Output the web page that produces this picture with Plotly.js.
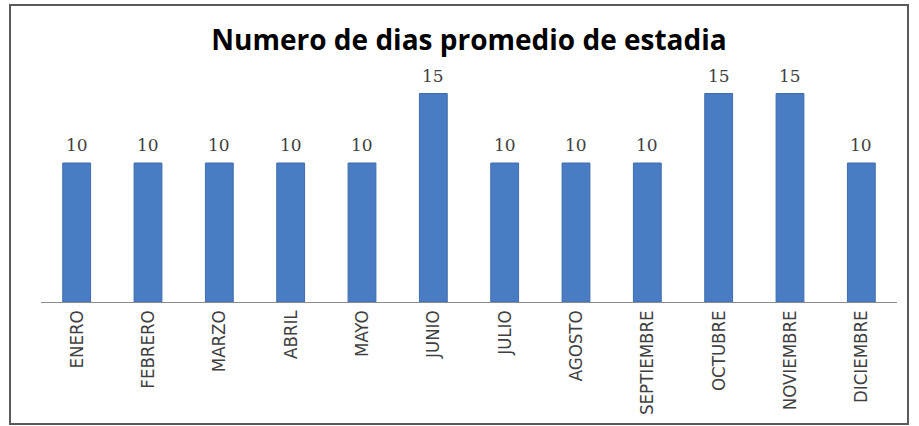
<!DOCTYPE html>
<html>
<head>
<meta charset="utf-8">
<script src="https://cdn.plot.ly/plotly-3.0.1.min.js"></script>
<style>
html,body{margin:0;padding:0;background:#fff;}
#chart{width:919px;height:426px;}
</style>
</head>
<body>
<div id="chart"></div>
<script>
const months = ["ENERO","FEBRERO","MARZO","ABRIL","MAYO","JUNIO","JULIO","AGOSTO","SEPTIEMBRE","OCTUBRE","NOVIEMBRE","DICIEMBRE"];
const days = [10,10,10,10,10,15,10,10,10,15,15,10];
const chartTitle = "Numero de dias promedio de estadia";

const trace = {
  type: "bar",
  x: months,
  y: days,
  marker: {color: "#4a7cc3", line: {color: "#3d6db0", width: 1}},
  hoverinfo: "skip"
};

const annotations = months.map((m, i) => ({
  x: m, y: days[i], xref: "x", yref: "y",
  text: String(days[i]),
  showarrow: false,
  yanchor: "bottom",
  yshift: 6,
  font: {family: "DejaVu Serif, serif", size: 17, color: "#404040"}
}));

const layout = {
  width: 919, height: 426,
  margin: {l: 41, r: 22, t: 60, b: 124},
  paper_bgcolor: "#ffffff",
  plot_bgcolor: "#ffffff",
  bargap: 0.61,
  showlegend: false,
  title: {
    text: "<b>" + chartTitle + "</b>",
    font: {family: "Open Sans, sans-serif", size: 28, color: "#000000"},
    x: 0.5, xanchor: "center", xref: "paper",
    y: 1 - 40/426, yref: "container", yanchor: "middle"
  },
  xaxis: {
    type: "category",
    showline: true, linecolor: "#8c8c8c", linewidth: 1,
    showgrid: false, zeroline: false, ticks: "",
    tickangle: -90,
    tickfont: {family: "DejaVu Sans Condensed, sans-serif", size: 18.5, color: "#404040"},
    fixedrange: true
  },
  yaxis: {
    range: [0, 17.41],
    visible: false, showgrid: false, zeroline: false, fixedrange: true
  },
  annotations: annotations,
  shapes: [{
    type: "rect", xref: "paper", yref: "paper",
    x0: (10-41)/856, x1: (908-41)/856,
    y0: (302-424)/242, y1: (302-5)/242,
    line: {color: "#5a5a5a", width: 2},
    fillcolor: "rgba(0,0,0,0)", layer: "below"
  }]
};

Plotly.newPlot("chart", [trace], layout, {displayModeBar: false, staticPlot: true});
</script>
</body>
</html>
